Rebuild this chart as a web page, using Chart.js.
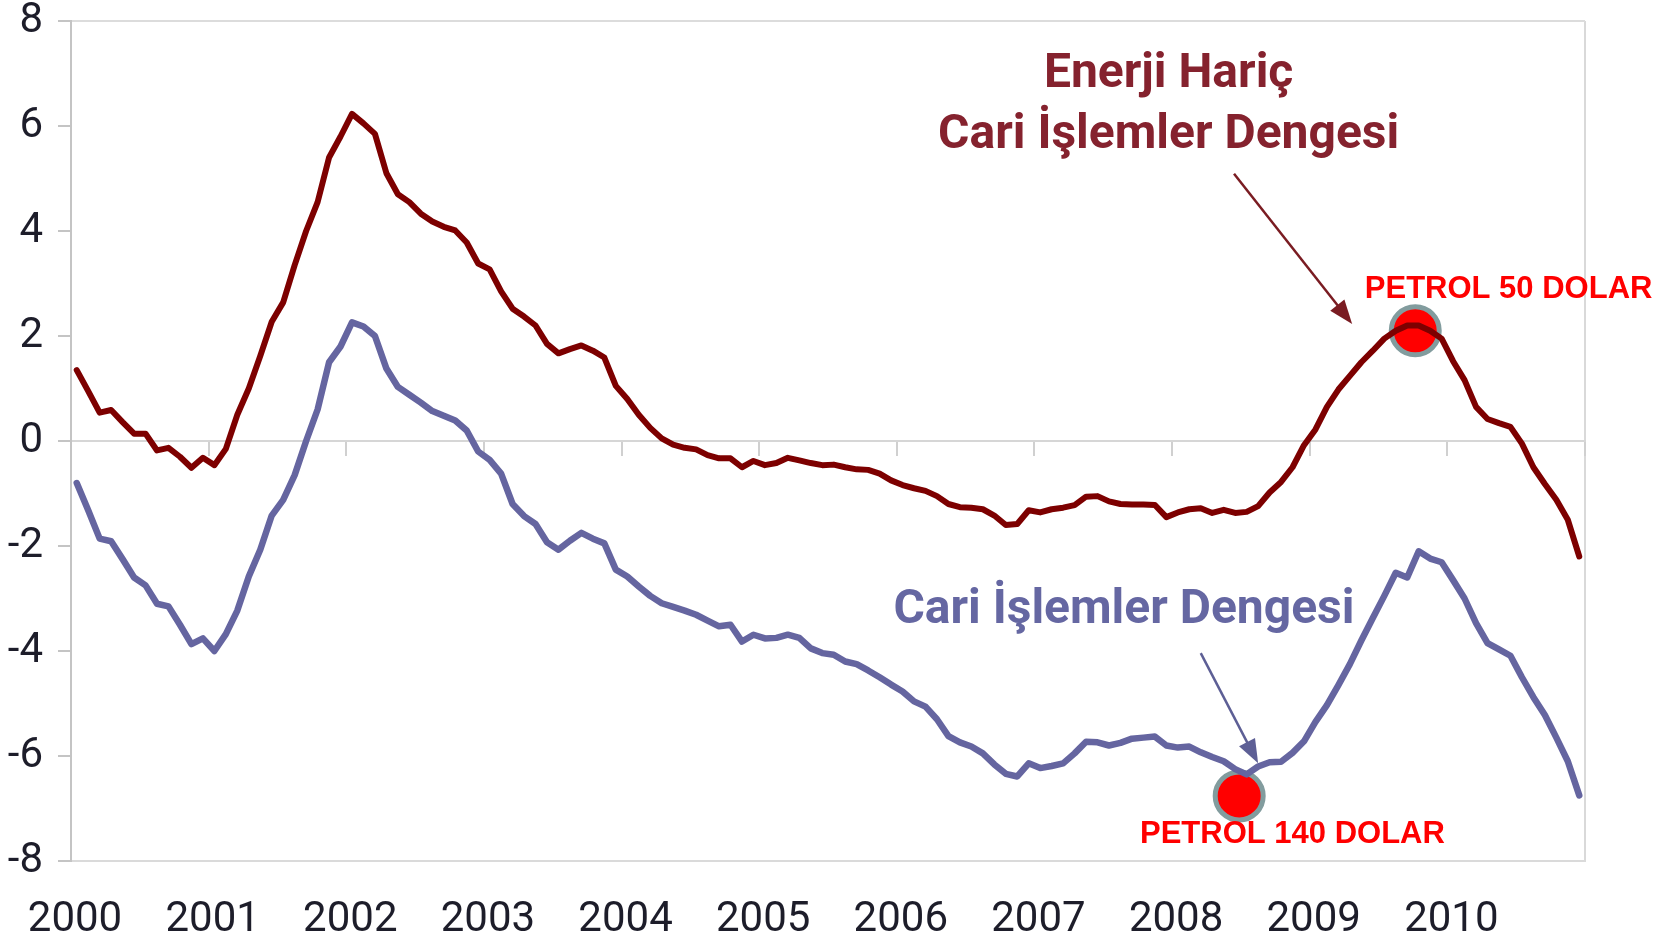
<!DOCTYPE html>
<html>
<head>
<meta charset="utf-8">
<script src="https://cdn.jsdelivr.net/npm/chart.js@4.4.1/dist/chart.umd.min.js"></script>
<style>
  html, body { margin: 0; padding: 0; background: #ffffff; }
</style>
</head>
<body>
<canvas id="chart" width="1673" height="940"></canvas>
<script>
// eksen etiketleri
const yearLabels = ['2000', '2001', '2002', '2003', '2004', '2005', '2006', '2007', '2008', '2009', '2010'];
const monthsPerYear = 12;

// Enerji hariç cari işlemler dengesi (aylık, 2000-01 .. 2010-12)
const enerjiHaricCari = [
  1.35, 0.95, 0.54, 0.59, 0.36, 0.14, 0.14, -0.18, -0.13, -0.30, -0.51, -0.32,
  -0.46, -0.15, 0.50, 1.00, 1.62, 2.27, 2.64, 3.35, 4.00, 4.55, 5.40, 5.80,
  6.23, 6.05, 5.85, 5.10, 4.70, 4.55, 4.33, 4.18, 4.08, 4.01, 3.78, 3.38,
  3.27, 2.85, 2.52, 2.37, 2.20, 1.85, 1.67, 1.75, 1.82, 1.72, 1.59, 1.05,
  0.80, 0.50, 0.25, 0.05, -0.07, -0.13, -0.16, -0.27, -0.33, -0.33, -0.50, -0.38,
  -0.46, -0.42, -0.32, -0.37, -0.42, -0.46, -0.45, -0.50, -0.54, -0.55, -0.62, -0.75,
  -0.84, -0.90, -0.95, -1.05, -1.20, -1.26, -1.27, -1.30, -1.42, -1.60, -1.58, -1.32,
  -1.36, -1.30, -1.27, -1.22, -1.06, -1.05, -1.15, -1.20, -1.21, -1.21, -1.22, -1.45,
  -1.36, -1.30, -1.28, -1.37, -1.31, -1.37, -1.35, -1.24, -0.98, -0.78, -0.50, -0.08,
  0.22, 0.65, 0.98, 1.24, 1.50, 1.72, 1.95, 2.10, 2.20, 2.20, 2.10, 1.95,
  1.52, 1.16, 0.65, 0.42, 0.34, 0.27, -0.05, -0.50, -0.82, -1.12, -1.50, -2.20
];

// Cari işlemler dengesi
const cariIslemler = [
  -0.80, -1.32, -1.86, -1.91, -2.25, -2.60, -2.75, -3.10, -3.15, -3.50, -3.87, -3.76,
  -4.00, -3.68, -3.23, -2.58, -2.07, -1.42, -1.12, -0.65, 0.00, 0.60, 1.50, 1.80,
  2.26, 2.18, 2.00, 1.38, 1.03, 0.88, 0.73, 0.57, 0.48, 0.39, 0.20, -0.20,
  -0.36, -0.62, -1.20, -1.43, -1.58, -1.93, -2.07, -1.90, -1.75, -1.86, -1.95, -2.45,
  -2.58, -2.77, -2.95, -3.09, -3.16, -3.23, -3.31, -3.42, -3.53, -3.50, -3.82, -3.69,
  -3.76, -3.75, -3.69, -3.75, -3.95, -4.04, -4.07, -4.20, -4.25, -4.37, -4.50, -4.64,
  -4.77, -4.96, -5.06, -5.30, -5.62, -5.74, -5.82, -5.95, -6.16, -6.34, -6.39, -6.14,
  -6.23, -6.19, -6.14, -5.95, -5.73, -5.74, -5.80, -5.75, -5.67, -5.65, -5.63, -5.80,
  -5.84, -5.82, -5.93, -6.02, -6.10, -6.25, -6.35, -6.20, -6.12, -6.11, -5.94, -5.72,
  -5.35, -5.03, -4.65, -4.25, -3.80, -3.37, -2.95, -2.51, -2.60, -2.10, -2.24, -2.31,
  -2.65, -3.00, -3.47, -3.85, -3.97, -4.09, -4.50, -4.88, -5.22, -5.65, -6.10, -6.75
];

// petrol fiyatı işaretleri (x: 2000 başından itibaren ay, y: değer)
const petrolX = [117.2, 101.85];
const petrolY = [2.10, -6.76];
const petrolText = ['PETROL 50 DOLAR', 'PETROL 140 DOLAR'];
const petrolTextX = [112.8, 93.2];
const petrolTextY = [2.88, -7.49];

// seri başlıkları ve oklar
const kirmiziBaslik = ['Enerji Hariç', 'Cari İşlemler Dengesi'];
const kirmiziBaslikX = [95.7, 95.7];
const kirmiziBaslikY = [6.97, 5.81];
const maviBaslik = 'Cari İşlemler Dengesi';
const maviBaslikX = 91.8;
const maviBaslikY = -3.23;
const okKirmizi = [101.4, 5.09, 111.7, 2.23];
const okMavi = [98.5, -4.04, 103.5, -6.14];

const RED = '#7d0000';
const BLUE = '#6565a0';
const RED_TEXT = '#85222e';
const BLUE_TEXT = '#6567a2';
const totalMonths = yearLabels.length * monthsPerYear;

function toPoints(values) {
    return values.map((v, i) => ({ x: i + 0.5, y: v }));
}

function drawArrow(ctx, x1, y1, x2, y2, color) {
    const ang = Math.atan2(y2 - y1, x2 - x1);
    const head = 24;
    const half = 9;
    ctx.save();
    ctx.strokeStyle = color;
    ctx.fillStyle = color;
    ctx.lineWidth = 2.5;
    ctx.beginPath();
    ctx.moveTo(x1, y1);
    ctx.lineTo(x2 - Math.cos(ang) * head * 0.8, y2 - Math.sin(ang) * head * 0.8);
    ctx.stroke();
    ctx.beginPath();
    ctx.moveTo(x2, y2);
    ctx.lineTo(x2 - Math.cos(ang) * head + Math.sin(ang) * half, y2 - Math.sin(ang) * head - Math.cos(ang) * half);
    ctx.lineTo(x2 - Math.cos(ang) * head - Math.sin(ang) * half, y2 - Math.sin(ang) * head + Math.cos(ang) * half);
    ctx.closePath();
    ctx.fill();
    ctx.restore();
}

// başlıklar, oklar ve petrol yazıları
const annotationPlugin = {
    id: 'annotations',
    afterDraw(chart) {
        const ctx = chart.ctx;
        const xs = chart.scales.x;
        const ys = chart.scales.y;
        const px = v => xs.getPixelForValue(v);
        const py = v => ys.getPixelForValue(v);

        ctx.save();
        ctx.textAlign = 'center';
        ctx.textBaseline = 'middle';
        ctx.font = "bold 48px Roboto, 'Liberation Sans', sans-serif";
        ctx.fillStyle = RED_TEXT;
        kirmiziBaslik.forEach((t, i) => ctx.fillText(t, px(kirmiziBaslikX[i]), py(kirmiziBaslikY[i])));
        ctx.fillStyle = BLUE_TEXT;
        ctx.fillText(maviBaslik, px(maviBaslikX), py(maviBaslikY));

        drawArrow(ctx, px(okKirmizi[0]), py(okKirmizi[1]), px(okKirmizi[2]), py(okKirmizi[3]), '#7a1c22');
        drawArrow(ctx, px(okMavi[0]), py(okMavi[1]), px(okMavi[2]), py(okMavi[3]), '#5d5f95');

        ctx.textAlign = 'left';
        ctx.font = "bold 31px 'Liberation Sans', Arial, sans-serif";
        ctx.fillStyle = '#ff0000';
        petrolText.forEach((t, i) => ctx.fillText(t, px(petrolTextX[i]), py(petrolTextY[i])));
        ctx.restore();
    }
};

const tickFont = { family: "Roboto, 'Liberation Sans', sans-serif", size: 42, lineHeight: 1 };

new Chart(document.getElementById('chart').getContext('2d'), {
    type: 'line',
    data: {
        datasets: [
            {
                data: toPoints(enerjiHaricCari),
                borderColor: RED,
                borderWidth: 6,
                pointRadius: 0,
                tension: 0,
                borderJoinStyle: 'round',
                borderCapStyle: 'round',
                fill: false
            },
            {
                data: toPoints(cariIslemler),
                borderColor: BLUE,
                borderWidth: 6.5,
                pointRadius: 0,
                tension: 0,
                borderJoinStyle: 'round',
                borderCapStyle: 'round',
                fill: false
            },
            {
                data: petrolX.map((x, i) => ({ x: x, y: petrolY[i] })),
                showLine: false,
                pointRadius: 24,
                pointBorderWidth: 5,
                pointBackgroundColor: '#ff0000',
                pointBorderColor: '#829c9e',
                clip: false
            }
        ]
    },
    options: {
        responsive: false,
        devicePixelRatio: 1,
        animation: false,
        layout: { autoPadding: false, padding: { top: 21, right: 88, bottom: 0, left: 0 } },
        plugins: {
            legend: { display: false },
            tooltip: { enabled: false }
        },
        scales: {
            x: {
                type: 'linear',
                position: 'bottom',
                min: 0,
                max: totalMonths,
                afterFit: s => { s.height = 79; s.paddingLeft = 0; s.paddingRight = 0; },
                ticks: {
                    stepSize: monthsPerYear,
                    autoSkip: false,
                    maxRotation: 0,
                    padding: 38,
                    labelOffset: 4,
                    color: '#1d1d2a',
                    font: tickFont,
                    callback: v => yearLabels[v / monthsPerYear] || ''
                },
                grid: {
                    color: c => (c.tick && c.tick.value === totalMonths) ? '#d9d9d9' : 'transparent',
                    lineWidth: 2,
                    drawTicks: false
                },
                border: { display: true, color: '#dadada', width: 2 }
            },
            x2: {
                type: 'linear',
                position: { y: 0 },
                min: 0,
                max: totalMonths,
                afterFit: s => { s.height = 0; s.paddingLeft = 0; s.paddingRight = 0; },
                ticks: { stepSize: monthsPerYear, display: false },
                grid: {
                    drawOnChartArea: false,
                    drawTicks: true,
                    tickLength: 14,
                    tickColor: '#d0d0d0',
                    lineWidth: 2
                },
                border: { display: true, color: '#d6d6d6', width: 2 }
            },
            y: {
                min: -8,
                max: 8,
                afterFit: s => { s.width = 71; s.paddingTop = 0; s.paddingBottom = 0; },
                ticks: {
                    stepSize: 2,
                    padding: 15,
                    color: '#1d1d2a',
                    font: tickFont
                },
                grid: {
                    color: c => (c.tick && c.tick.value === 8) ? '#dcdcdc' : 'transparent',
                    tickColor: '#c4c4c4',
                    tickLength: 13,
                    lineWidth: 2
                },
                border: { display: true, color: '#c4c4c4', width: 2 }
            }
        }
    },
    plugins: [annotationPlugin]
});
</script>
</body>
</html>
